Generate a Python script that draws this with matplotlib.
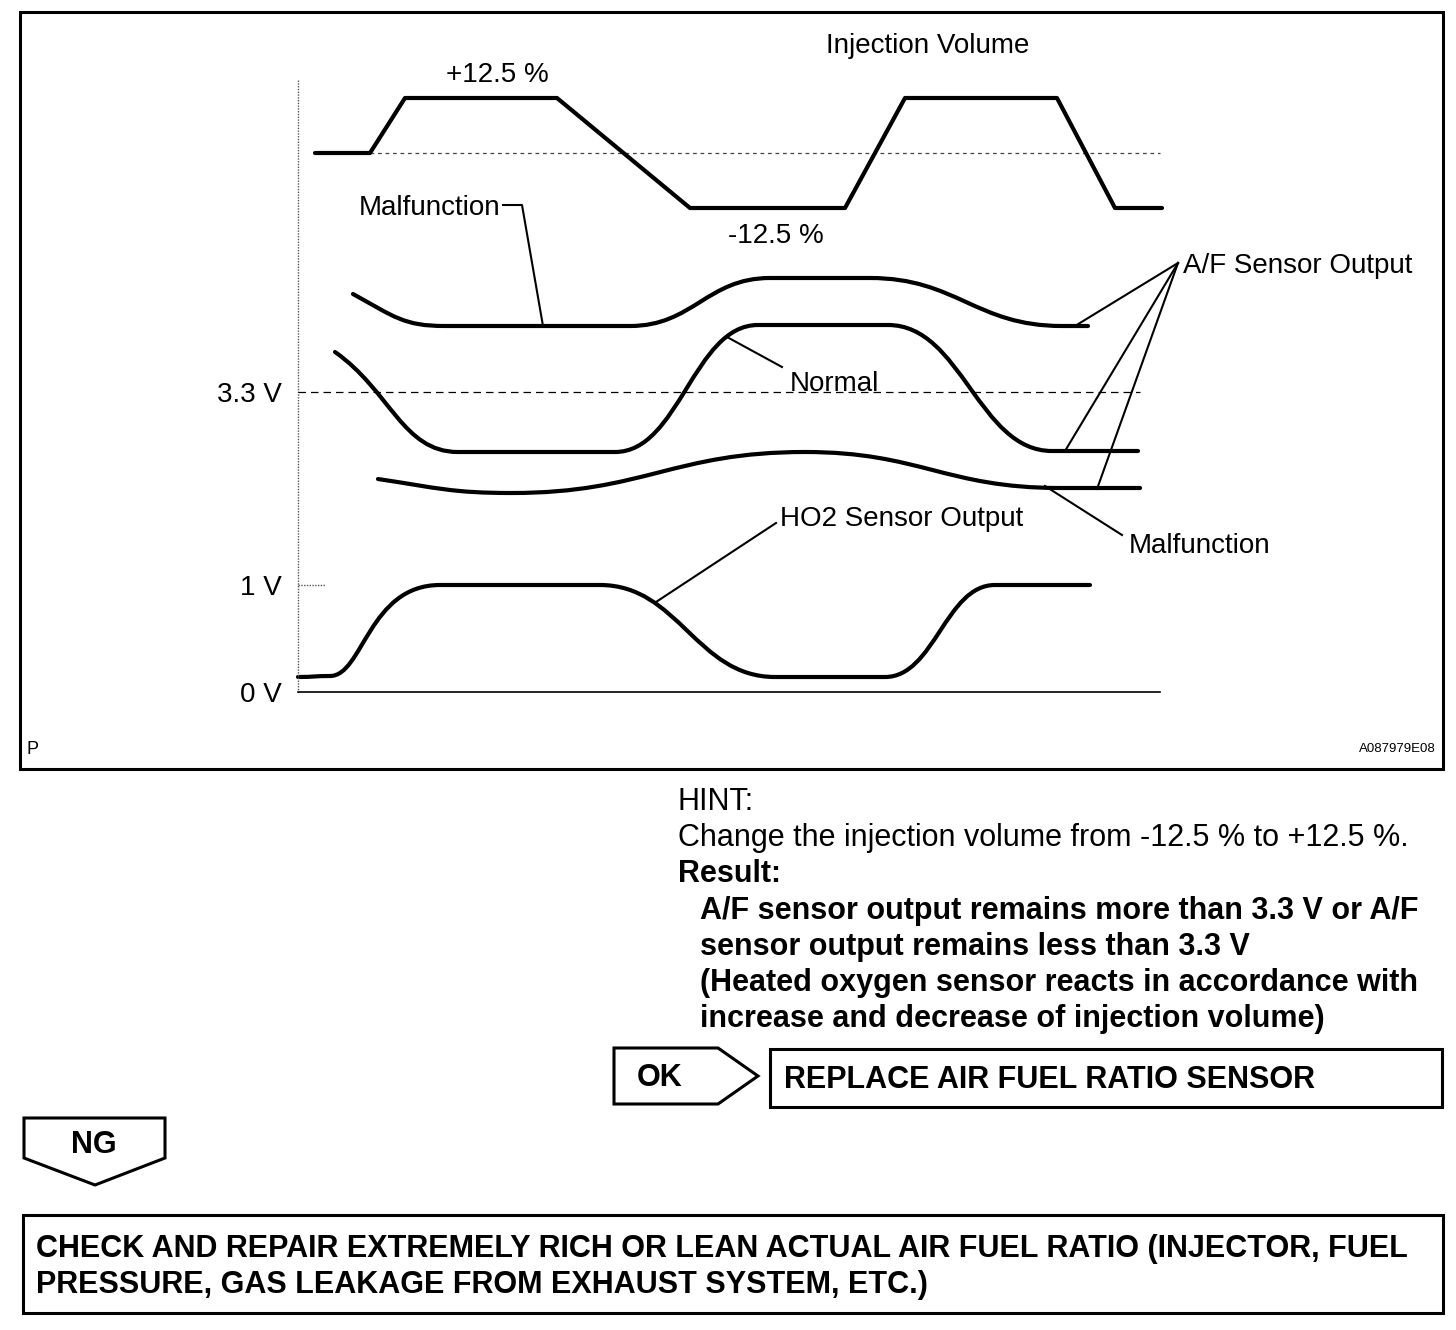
import matplotlib
matplotlib.use("Agg")
import matplotlib.pyplot as plt
from matplotlib.path import Path
from matplotlib.patches import PathPatch, Polygon, Rectangle

plt.rcParams['font.family'] = ['Liberation Sans', 'DejaVu Sans']

# ---------------- data (diagram units = reference pixels) ----------------
# Injection volume trace (trapezoid waveform)
inj_x = [315, 370, 405, 557, 690, 845, 905, 1057, 1115, 1162]
inj_y = [153, 153, 98, 98, 208, 208, 98, 98, 208, 208]

# Smooth curves: nodes (x, y, slope, handle_in, handle_out)
af_malf_upper = [(353, 294, 0.55, .45, .45), (445, 326, 0, .45, .45), (630, 326, 0, .45, .45),
                 (770, 278, 0, .45, .45), (870, 278, 0, .45, .45), (1062, 326, 0, .45, .45),
                 (1088, 326, 0, .45, .45)]
af_normal = [(335, 352, 0.7, .45, .45), (458, 452, 0, .45, .45), (615, 452, 0, .45, .45),
             (758, 325, 0, .45, .45), (888, 325, 0, .45, .45), (1052, 451, 0, .45, .45),
             (1138, 451, 0, .45, .45)]
af_malf_lower = [(378, 479, 0.15, .45, .45), (512, 493, 0, .45, .45), (805, 452, 0, .45, .45),
                 (1060, 488, 0, .45, .45), (1140, 488, 0, .45, .45)]
ho2 = [(298, 677, 0, .45, .45), (330, 676, 0, .45, .3), (440, 585, 0, .65, .45),
       (600, 585, 0, .45, .45), (775, 677, 0, .45, .45), (885, 677, 0, .45, .45),
       (995, 585, 0, .45, .45), (1090, 585, 0, .45, .45)]

# Leader lines
leaders = [
    [(503, 205), (522, 205), (543, 326)],
    [(727, 337), (782, 367)],
    [(1178, 263), (1075, 326)],
    [(1178, 263), (1065, 451)],
    [(1178, 263), (1097, 489)],
    [(1045, 486), (1122, 535)],
    [(656, 602), (776, 523)],
]

y_tick_labels = ["3.3 V", "1 V", "0 V"]
y_tick_pos = [392, 585, 692]

hint_lines = ["HINT:", "Change the injection volume from -12.5 % to +12.5 %."]
result_title = "Result:"
result_lines = ["A/F sensor output remains more than 3.3 V or A/F",
                "sensor output remains less than 3.3 V",
                "(Heated oxygen sensor reacts in accordance with",
                "increase and decrease of injection volume)"]
ok_action = "REPLACE AIR FUEL RATIO SENSOR"
ng_action = ["CHECK AND REPAIR EXTREMELY RICH OR LEAN ACTUAL AIR FUEL RATIO (INJECTOR, FUEL",
             "PRESSURE, GAS LEAKAGE FROM EXHAUST SYSTEM, ETC.)"]

# ---------------- figure ----------------
W, H = 1456, 1330
fig = plt.figure(figsize=(W / 100, H / 100), dpi=100)
ax = fig.add_axes([0, 0, 1, 1])
ax.set_xlim(0, W)
ax.set_ylim(H, 0)
ax.axis('off')

LW_THICK = 3.0
LW_THIN = 1.5
DY = 3  # text baseline correction


def smooth_path(nodes):
    verts = [(nodes[0][0], nodes[0][1])]
    codes = [Path.MOVETO]
    for (x0, y0, s0, _, k0), (x1, y1, s1, k1, _) in zip(nodes[:-1], nodes[1:]):
        dx = x1 - x0
        h0, h1 = k0 * dx, k1 * dx
        verts += [(x0 + h0, y0 + h0 * s0), (x1 - h1, y1 - h1 * s1), (x1, y1)]
        codes += [Path.CURVE4] * 3
    return Path(verts, codes)


def txt(x, y, s, **kw):
    ax.text(x, y + DY, s, va='center', **kw)


# outer frame of figure panel
ax.add_patch(Rectangle((20, 12), 1423, 757, fill=False, lw=2.2, ec='black'))

# axes of the chart
ax.plot([298, 298], [80, 692], color='#555555', lw=1.0, ls=(0, (1, 1)))
ax.plot([298, 1160], [692, 692], color='black', lw=1.2)
ax.plot([298, 325], [585, 585], color='#555555', lw=1.0, ls=(0, (1, 1)))
ax.plot([298, 1140], [392, 392], color='black', lw=0.9, ls=(0, (6, 4)))
ax.plot([370, 1160], [153, 153], color='#444444', lw=0.9, ls=(0, (3, 3)))

# waveforms
ax.plot(inj_x, inj_y, color='black', lw=LW_THICK, solid_capstyle='round', solid_joinstyle='round')
for nodes in (af_malf_upper, af_normal, af_malf_lower, ho2):
    ax.add_patch(PathPatch(smooth_path(nodes), fill=False, lw=LW_THICK, ec='black',
                           capstyle='round'))

for ld in leaders:
    xs, ys = zip(*ld)
    ax.plot(xs, ys, color='black', lw=LW_THIN)

FS = 20
txt(928, 43, "Injection Volume", ha='center', fontsize=FS)
txt(497, 72, "+12.5 %", ha='center', fontsize=FS)
txt(776, 233, "-12.5 %", ha='center', fontsize=FS)
txt(500, 205, "Malfunction", ha='right', fontsize=FS)
txt(790, 381, "Normal", ha='left', fontsize=FS)
txt(1183, 263, "A/F Sensor Output", ha='left', fontsize=FS)
txt(780, 516, "HO2 Sensor Output", ha='left', fontsize=FS)
txt(1129, 543, "Malfunction", ha='left', fontsize=FS)
for lab, yp in zip(y_tick_labels, y_tick_pos):
    txt(282, yp, lab, ha='right', fontsize=FS)
txt(26, 746, "P", ha='left', fontsize=13)
txt(1436, 746, "A087979E08", ha='right', fontsize=9.5)

# hint block
FB = 22
txt(678, 799, hint_lines[0], ha='left', fontsize=FB)
txt(678, 835, hint_lines[1], ha='left', fontsize=FB)
txt(678, 871, result_title, ha='left', fontsize=FB, fontweight='bold')
for i, line in enumerate(result_lines):
    txt(700, 908 + 36 * i, line, ha='left', fontsize=FB, fontweight='bold')

# OK arrow and box
ax.add_patch(Polygon([(614, 1048), (718, 1048), (758, 1076), (718, 1104), (614, 1104)],
                     closed=True, fill=False, lw=2.2, ec='black', joinstyle='miter'))
txt(660, 1075, "OK", ha='center', fontsize=FB, fontweight='bold')
ax.add_patch(Rectangle((770, 1049), 672, 58, fill=False, lw=2.2, ec='black'))
txt(784, 1077, ok_action, ha='left', fontsize=FB, fontweight='bold')

# NG arrow
ax.add_patch(Polygon([(24, 1118), (165, 1118), (165, 1158), (95, 1185), (24, 1158)],
                     closed=True, fill=False, lw=2.2, ec='black', joinstyle='miter'))
txt(94, 1142, "NG", ha='center', fontsize=FB, fontweight='bold')

# bottom box
ax.add_patch(Rectangle((23, 1215), 1420, 98, fill=False, lw=2.2, ec='black'))
for i, line in enumerate(ng_action):
    txt(36, 1246 + 36 * i, line, ha='left', fontsize=FB, fontweight='bold')

fig.savefig("out.png", dpi=100, facecolor='white')
